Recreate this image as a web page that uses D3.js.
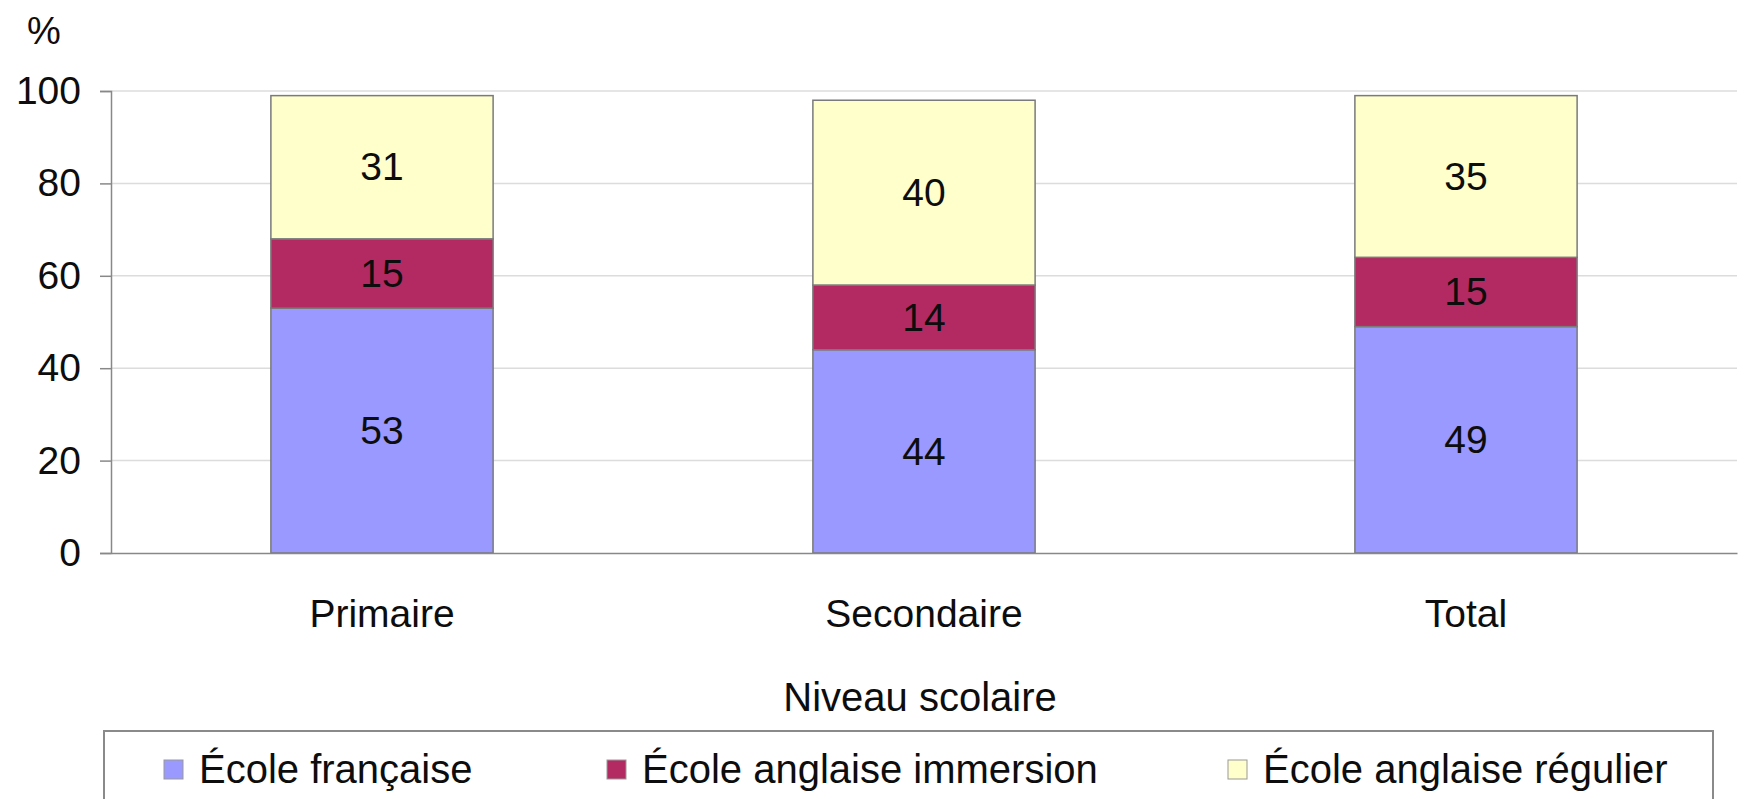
<!DOCTYPE html>
<html><head><meta charset="utf-8">
<script src="https://cdn.jsdelivr.net/npm/d3@7"></script>
<style>
body{margin:0;background:#fff;}
text{font-family:"Liberation Sans",Arial,sans-serif;fill:#0d0d0d;}
</style></head>
<body><svg id="c" width="1746" height="799"></svg>
<script>
const categories = ["Primaire","Secondaire","Total"];
const seriesNames = ["École française","École anglaise immersion","École anglaise régulier"];
const ecoleFrancaise = [53,44,49];
const ecoleAnglaiseImmersion = [15,14,15];
const ecoleAnglaiseRegulier = [31,40,35];
const yTicks = [0,20,40,60,80,100];
const colors = ["#9999FF","#B32A62","#FFFFCC"];

(function(){
const rows = categories.map((c,i)=>({cat:c,
  [seriesNames[0]]:ecoleFrancaise[i],
  [seriesNames[1]]:ecoleAnglaiseImmersion[i],
  [seriesNames[2]]:ecoleAnglaiseRegulier[i]}));
const stack = d3.stack().keys(seriesNames)(rows);

const svg = d3.select("#c");
const pL=111, pR=1737, pT=91, pB=553;
const FS = 39;
const x = d3.scaleBand().domain(categories).range([pL,pR]).paddingInner(0.59).paddingOuter(0.295);
const y = d3.scaleLinear().domain([0,100]).range([pB,pT]);

svg.append("g").selectAll("line").data(yTicks.filter(t=>t>0)).join("line")
  .attr("x1",pL).attr("x2",pR).attr("y1",d=>y(d)).attr("y2",d=>y(d))
  .attr("stroke","#dcdcdc").attr("stroke-width",1.5);

const g = svg.append("g");
stack.forEach((s,si)=>{
  g.append("g").selectAll("rect").data(s).join("rect")
    .attr("x",d=>x(d.data.cat)).attr("width",x.bandwidth())
    .attr("y",d=>y(d[1])).attr("height",d=>y(d[0])-y(d[1]))
    .attr("fill",colors[si]).attr("stroke","#7a7a7a").attr("stroke-width",1.5);
  g.append("g").selectAll("text").data(s).join("text")
    .attr("x",d=>x(d.data.cat)+x.bandwidth()/2)
    .attr("y",d=>(y(d[0])+y(d[1]))/2)
    .attr("dy","0.34em").attr("text-anchor","middle")
    .attr("font-size",FS)
    .text(d=>d[1]-d[0]);
});

const ya = svg.append("g").attr("transform",`translate(${pL},0)`)
  .call(d3.axisLeft(y).tickValues(yTicks).tickSize(11).tickPadding(19));
ya.select(".domain").attr("stroke","#888").attr("stroke-width",1.5);
ya.selectAll(".tick line").attr("stroke","#888").attr("stroke-width",1.5);
ya.selectAll(".tick text").attr("font-size",FS).attr("font-family","Liberation Sans, Arial, sans-serif").attr("fill","#0d0d0d");

const xa = svg.append("g").attr("transform",`translate(0,${pB})`)
  .call(d3.axisBottom(x).tickSize(0).tickPadding(46));
xa.select(".domain").attr("stroke","#888").attr("stroke-width",1.5);
xa.selectAll(".tick text").attr("font-size",FS).attr("font-family","Liberation Sans, Arial, sans-serif").attr("fill","#0d0d0d");

svg.append("text").attr("x",44).attr("y",30).attr("dy","0.36em").attr("text-anchor","middle")
  .attr("font-size",38).text("%");
svg.append("text").attr("x",920).attr("y",697).attr("dy","0.36em").attr("text-anchor","middle")
  .attr("font-size",40).text("Niveau scolaire");

svg.append("rect").attr("x",104).attr("y",731).attr("width",1609).attr("height",90)
  .attr("fill","#fff").attr("stroke","#8a8a8a").attr("stroke-width",2);
const legX = [164,607,1228];
const lg = svg.append("g").selectAll("g").data(seriesNames).join("g")
  .attr("transform",(d,i)=>`translate(${legX[i]},769)`);
lg.append("rect").attr("x",0).attr("y",-9).attr("width",19).attr("height",19)
  .attr("fill",(d,i)=>colors[i]).attr("stroke","#999").attr("stroke-width",1);
lg.append("text").attr("x",35).attr("dy","0.36em").attr("font-size",40).text(d=>d);
})();
</script></body></html>
